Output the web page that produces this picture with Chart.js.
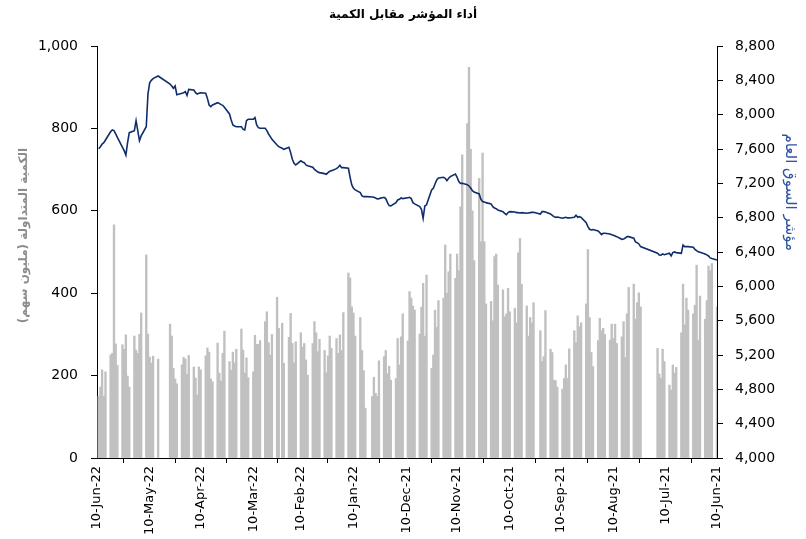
<!DOCTYPE html>
<html><head><meta charset="utf-8">
<script src="https://cdn.jsdelivr.net/npm/chart.js@4.4.0/dist/chart.umd.min.js"></script>
<style>html,body{margin:0;padding:0;background:#fff}#wrap{width:806px;height:539px}</style>
</head><body><div id="wrap"><canvas id="c" width="806" height="539"></canvas></div>
<script>
const chartTitle = "\u200Fأداء المؤشر مقابل الكمية\u200F";
const leftAxisTitle = "\u200Fالكمية المتداولة (مليون سهم)\u200F";
const rightAxisTitle = "\u200Fمؤشر السوق العام\u200F";

const xTickDates = ["2021-06-10","2021-07-10","2021-08-10","2021-09-10","2021-10-10","2021-11-10","2021-12-10",
  "2022-01-10","2022-02-10","2022-03-10","2022-04-10","2022-05-10","2022-06-10"];
const volumeTicks = [0,200,400,600,800,1000];
const indexTicks = [4000,4400,4800,5200,5600,6000,6400,6800,7200,7600,8000,8400,8800];

// trading days (chronological)
const dates = [
 "2021-06-10",
 "2021-06-13","2021-06-14","2021-06-15","2021-06-16","2021-06-17",
 "2021-06-20","2021-06-21","2021-06-22","2021-06-23","2021-06-24",
 "2021-06-27","2021-06-28","2021-06-29","2021-06-30","2021-07-01",
 "2021-07-04","2021-07-05","2021-07-06","2021-07-07","2021-07-08",
 "2021-07-11","2021-07-12","2021-07-13","2021-07-14","2021-07-15",
 "2021-07-25","2021-07-26","2021-07-27","2021-07-28","2021-07-29",
 "2021-08-01","2021-08-02","2021-08-03","2021-08-04","2021-08-05",
 "2021-08-08","2021-08-09","2021-08-10","2021-08-11","2021-08-12",
 "2021-08-15","2021-08-16","2021-08-17","2021-08-18","2021-08-19",
 "2021-08-22","2021-08-23","2021-08-24","2021-08-25","2021-08-26",
 "2021-08-29","2021-08-30","2021-08-31","2021-09-01","2021-09-02",
 "2021-09-05","2021-09-06","2021-09-07","2021-09-08","2021-09-09",
 "2021-09-12","2021-09-13","2021-09-14","2021-09-15","2021-09-16",
 "2021-09-19","2021-09-20","2021-09-21","2021-09-22",
 "2021-09-26","2021-09-27","2021-09-28","2021-09-29","2021-09-30",
 "2021-10-03","2021-10-04","2021-10-05","2021-10-06","2021-10-07",
 "2021-10-10","2021-10-11","2021-10-12","2021-10-13","2021-10-14",
 "2021-10-17","2021-10-18","2021-10-19","2021-10-20","2021-10-21",
 "2021-10-24","2021-10-25","2021-10-26","2021-10-27","2021-10-28",
 "2021-10-31","2021-11-01","2021-11-02","2021-11-03","2021-11-04",
 "2021-11-07","2021-11-08","2021-11-09","2021-11-10","2021-11-11",
 "2021-11-14","2021-11-15","2021-11-16","2021-11-17","2021-11-18",
 "2021-11-21","2021-11-22","2021-11-23","2021-11-24","2021-11-25",
 "2021-11-28","2021-11-29","2021-11-30","2021-12-01","2021-12-02",
 "2021-12-05","2021-12-06","2021-12-07","2021-12-08","2021-12-09",
 "2021-12-12","2021-12-13","2021-12-14","2021-12-15","2021-12-16",
 "2021-12-19","2021-12-20","2021-12-21","2021-12-22","2021-12-23",
 "2021-12-26","2021-12-27","2021-12-28","2021-12-29","2021-12-30",
 "2022-01-02","2022-01-03","2022-01-04","2022-01-05","2022-01-06",
 "2022-01-09","2022-01-10","2022-01-11","2022-01-12","2022-01-13",
 "2022-01-16","2022-01-17","2022-01-18","2022-01-19","2022-01-20",
 "2022-01-23","2022-01-24","2022-01-25","2022-01-26","2022-01-27",
 "2022-01-30","2022-01-31","2022-02-01","2022-02-02","2022-02-03",
 "2022-02-06","2022-02-07","2022-02-08","2022-02-09","2022-02-10",
 "2022-02-13","2022-02-14","2022-02-15","2022-02-16","2022-02-17",
 "2022-02-20","2022-02-21","2022-02-23","2022-02-24",
 "2022-02-27","2022-02-28","2022-03-01","2022-03-02","2022-03-03",
 "2022-03-06","2022-03-07","2022-03-08","2022-03-09","2022-03-10",
 "2022-03-13","2022-03-14","2022-03-15","2022-03-16","2022-03-17",
 "2022-03-20","2022-03-21","2022-03-22","2022-03-23","2022-03-24",
 "2022-03-27","2022-03-28","2022-03-29","2022-03-30","2022-03-31",
 "2022-04-03","2022-04-04","2022-04-05","2022-04-06","2022-04-07",
 "2022-04-10","2022-04-11","2022-04-12","2022-04-13","2022-04-14",
 "2022-04-17","2022-04-18","2022-04-19","2022-04-20","2022-04-21",
 "2022-04-24","2022-04-25","2022-04-26","2022-04-27","2022-04-28",
 "2022-05-05",
 "2022-05-08","2022-05-09","2022-05-10","2022-05-11","2022-05-12",
 "2022-05-15","2022-05-16","2022-05-17","2022-05-18","2022-05-19",
 "2022-05-22","2022-05-23","2022-05-24","2022-05-25","2022-05-26",
 "2022-05-29","2022-05-30","2022-05-31","2022-06-01","2022-06-02",
 "2022-06-05","2022-06-06","2022-06-07","2022-06-08","2022-06-09"
];

// traded volume (million shares)
const volume = [
 367,
 472,455,466,382,337,
 393,286,468,371,350,
 359,388,323,422,304,
 220,206,226,165,177,
 234,264,193,204,266,
 367,401,377,337,422,
 414,350,244,331,294,
 278,325,290,325,286,
 300,315,309,339,285,
 222,256,341,506,374,
 328,319,345,280,309,
 265,193,226,193,167,
 172,188,189,256,264,
 358,246,234,309,
 377,328,341,296,369,
 422,533,498,328,363,
 355,412,350,343,408,
 420,495,489,333,380,
 374,525,740,525,679,
 479,600,749,948,812,
 736,610,455,495,436,
 495,452,400,517,388,
 382,317,359,250,218,
 444,296,424,366,301,
 359,369,388,404,284,
 350,294,226,290,193,
 189,223,205,261,246,
 236,150,157,196,149,
 null,121,212,261,341,
 296,352,367,437,449,
 353,261,299,254,290,
 266,296,248,207,261,
 288,258,304,331,278,
 201,238,278,269,304,
 282,231,278,351,293,
 230,327,315,390,
 300,250,280,355,331,
 285,276,276,298,209,
 195,243,206,262,313,
 264,231,257,213,234,
 308,254,187,206,279,
 185,192,257,267,248,
 214,221,153,194,221,
 249,203,240,244,226,
 180,192,218,296,325,
 240,
 247,230,245,301,493,
 352,300,254,262,296,
 172,199,299,264,275,
 225,277,566,254,250,
 209,150,214,172,150
];

// general market index
const indexValues = [
 6307,
 6323,6331,6354,6366,6377,
 6397,6404,6416,6431,6455,
 6463,6463,6463,6482,6385,
 6393,6401,6393,6354,6385,
 6369,6377,6362,6366,6385,
 6463,6494,6509,6517,6560,
 6579,6579,6563,6552,6548,
 6579,6587,6595,6602,6610,
 6618,6618,6602,6626,6645,
 6661,6657,6665,6696,6742,
 6804,6812,6804,6828,6804,
 6797,6797,6804,6800,6793,
 6808,6804,6812,6828,6843,
 6866,6870,6870,6843,
 6862,6862,6859,6855,6851,
 6859,6855,6859,6859,6866,
 6870,6859,6835,6851,6870,
 6890,6905,6913,6929,6960,
 6975,6983,6987,7014,7076,
 7099,7115,7146,7169,7185,
 7200,7200,7220,7270,7309,
 7278,7259,7231,7259,7270,
 7262,7239,7193,7142,7123,
 6950,6936,6793,6897,6929,
 6960,6975,7022,7037,7033,
 7022,7029,7014,7006,6975,
 6936,6940,6975,7022,7037,
 7022,7018,7029,7037,7041,
 7045,7045,7045,7053,7092,
 7123,7142,7181,7270,7375,
 7383,7383,7410,7387,7371,
 7348,7340,7325,7305,7313,
 7325,7332,7348,7363,7387,
 7406,7414,7441,7449,7462,
 7414,7433,7480,7558,7620,
 7596,7608,7627,7647,
 7713,7744,7775,7814,7841,
 7841,7849,7880,7965,7946,
 7946,7930,7822,7829,7860,
 7860,7868,7880,7938,8008,
 8086,8109,8117,8132,8140,
 8113,8093,8113,8190,8249,
 8256,8249,8241,8256,8287,
 8295,8225,8268,8256,8249,
 8233,8334,8307,8334,8357,
 8450,
 8420,8400,8370,8240,7860,
 7752,7697,7814,7930,7814,
 7790,7674,7530,7581,7620,
 7736,7775,7814,7822,7800,
 7705,7674,7658,7627,7604
];

const MONTHS = ["Jan","Feb","Mar","Apr","May","Jun","Jul","Aug","Sep","Oct","Nov","Dec"];
const dayNum = s => Date.UTC(+s.slice(0,4), +s.slice(5,7)-1, +s.slice(8,10)) / 86400000;
const dayLabel = n => { const d = new Date(n*86400000); return d.getUTCDate()+"-"+MONTHS[d.getUTCMonth()]+"-"+String(d.getUTCFullYear()).slice(2); };
const fmtNum = v => Number(v).toLocaleString('en-US');

const FONT = "DejaVu Sans";

const axisTitlePlugin = {
  id: 'axisTitles',
  afterDraw(chart) {
    const {ctx, chartArea: ca} = chart;
    const h = ca.bottom - ca.top;
    ctx.save();
    ctx.textAlign = 'center'; ctx.textBaseline = 'middle';
    ctx.font = "bold 12px '" + FONT + "'";
    ctx.fillStyle = '#8c8c8c';
    ctx.translate(ca.left - 73, ca.top + h * 0.46);
    ctx.rotate(-Math.PI/2);
    ctx.fillText(leftAxisTitle, 0, 0);
    ctx.restore();
    ctx.save();
    ctx.textAlign = 'center'; ctx.textBaseline = 'middle';
    ctx.font = "15px '" + FONT + "'";
    ctx.fillStyle = '#2f55a4';
    ctx.translate(ca.right + 73, ca.top + h * 0.355);
    ctx.rotate(Math.PI/2);
    ctx.fillText(rightAxisTitle, 0, 0);
    ctx.restore();
  }
};

const xs = dates.map(dayNum);

new Chart(document.getElementById('c'), {
  type: 'bar',
  data: {
    datasets: [
      {
        type: 'line',
        data: xs.map((x, i) => ({x, y: indexValues[i]})),
        yAxisID: 'y2',
        borderColor: '#0f2d6b',
        borderWidth: 1.6,
        pointRadius: 0,
        tension: 0,
        order: 0
      },
      {
        type: 'bar',
        data: xs.map((x, i) => ({x, y: volume[i]})),
        yAxisID: 'y',
        backgroundColor: '#c0c0c0',
        borderWidth: 0,
        grouped: false,
        barPercentage: 1,
        categoryPercentage: 1,
        order: 1
      }
    ]
  },
  options: {
    responsive: false,
    animation: false,
    plugins: {
      legend: {display: false},
      tooltip: {enabled: false},
      title: {
        display: true, text: chartTitle, color: '#000',
        font: {family: FONT, size: 12, weight: 'bold'},
        padding: {top: 8, bottom: 23.6}
      }
    },
    scales: {
      x: {
        type: 'linear', reverse: true, offset: false,
        min: dayNum("2021-06-10"), max: dayNum("2022-06-10"),
        afterBuildTicks: s => { s.ticks = xTickDates.map(d => ({value: dayNum(d)})); },
        afterFit: s => { s.height = 81; },
        ticks: {
          autoSkip: false, maxRotation: 90, minRotation: 90, padding: 3,
          callback: v => dayLabel(v),
          color: '#000', font: {family: FONT, size: 13}
        },
        grid: {drawOnChartArea: false, tickLength: 5, color: '#000'},
        border: {display: true, color: '#000'}
      },
      y: {
        position: 'left', min: 0, max: 1000,
        afterBuildTicks: s => { s.ticks = volumeTicks.map(v => ({value: v})); },
        afterFit: s => { s.width = 97; },
        ticks: {callback: v => fmtNum(v), padding: 13, color: '#000', font: {family: FONT, size: 14}},
        grid: {drawOnChartArea: false, tickLength: 6, color: '#000'},
        border: {display: true, color: '#000'}
      },
      y2: {
        position: 'right', min: 4000, max: 8800,
        afterBuildTicks: s => { s.ticks = indexTicks.map(v => ({value: v})); },
        afterFit: s => { s.width = 89; },
        ticks: {callback: v => fmtNum(v), padding: 12, color: '#000', font: {family: FONT, size: 14}},
        grid: {drawOnChartArea: false, tickLength: 6, color: '#000'},
        border: {display: true, color: '#000'}
      }
    }
  },
  plugins: [axisTitlePlugin]
});
</script>
</body></html>
